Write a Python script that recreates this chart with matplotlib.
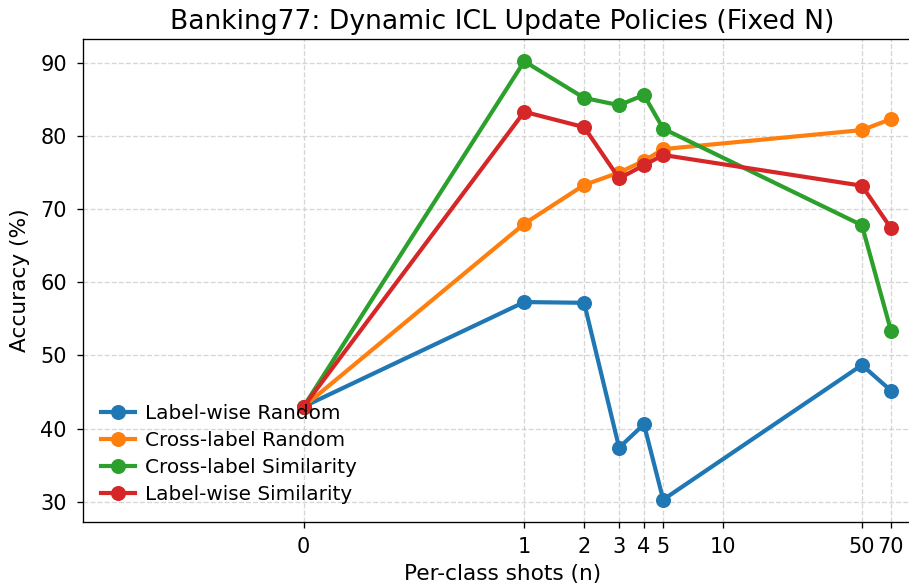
import matplotlib.pyplot as plt
import numpy as np

# данные
shots = [0, 1, 2, 3, 4, 5, 50, 70]
label_random = [43.0, 57.3, 57.2, 37.4, 40.6, 30.3, 48.7, 45.2]
cross_random = [43.0, 68.0, 73.3, 75.0, 76.6, 78.2, 80.8, 82.3]
cross_sim = [43.0, 90.2, 85.2, 84.2, 85.6, 81.0, 67.8, 53.4]
label_sim = [43.0, 83.3, 81.2, 74.2, 76.0, 77.4, 73.2, 67.4]
xticks = [0, 1, 2, 3, 4, 5, 10, 50, 70]

fig = plt.figure(figsize=(909 / 120, 588 / 120), dpi=120)
ax = fig.add_axes([0.091, 0.113, 0.923, 0.820])

ax.plot(shots, label_random, 'o-', color='#1f77b4', lw=2.5, ms=8, label='Label-wise Random')
ax.plot(shots, cross_random, 'o-', color='#ff7f0e', lw=2.5, ms=8, label='Cross-label Random')
ax.plot(shots, cross_sim, 'o-', color='#2ca02c', lw=2.5, ms=8, label='Cross-label Similarity')
ax.plot(shots, label_sim, 'o-', color='#d62728', lw=2.5, ms=8, label='Label-wise Similarity')

ax.set_xscale('symlog', linthresh=1)
ax.set_xlim(-1, 100)
ax.set_xticks(xticks)
ax.set_xticklabels([str(t) for t in xticks])
ax.minorticks_off()
ax.tick_params(labelsize=12.5, pad=6)
ax.spines['right'].set_visible(False)

ax.set_xlabel('Per-class shots (n)', fontsize=13, labelpad=4)
ax.set_ylabel('Accuracy (%)', fontsize=13, labelpad=6)
ax.set_title('Banking77: Dynamic ICL Update Policies (Fixed N)', fontsize=16)
ax.grid(True, linestyle='--', color='#cccccc', linewidth=0.8, alpha=0.8)
ax.legend(loc='lower left', frameon=False, fontsize=12, handlelength=1.7,
          handletextpad=0.5, labelspacing=0.4)

plt.savefig('out.png', dpi=120)
